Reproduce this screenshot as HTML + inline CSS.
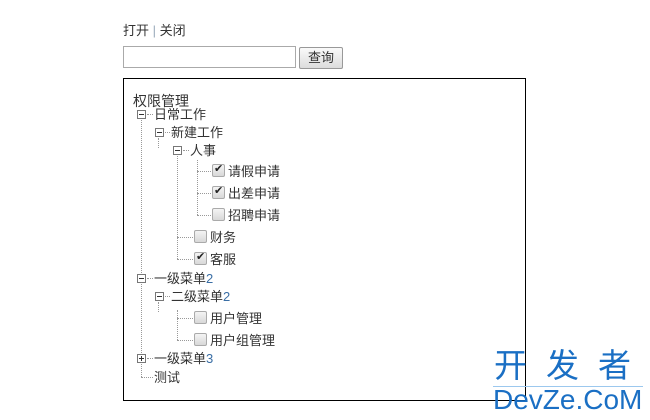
<!DOCTYPE html>
<html><head><meta charset="utf-8"><style>
body{margin:0;width:650px;height:420px;background:#fff;position:relative;overflow:hidden;font-family:"Liberation Sans","Noto Sans CJK SC",sans-serif;font-size:13px;color:#333}
.a{position:absolute;white-space:nowrap}
.t{position:absolute;white-space:nowrap;line-height:16px}
.v{position:absolute;border-left:1px dotted #999;width:0}
.h{position:absolute;border-top:1px dotted #999;height:0}
.sw{position:absolute;width:7px;height:7px;border:1px solid #777;background:#fff}
.sw:before{content:"";position:absolute;left:1px;top:3px;width:5px;height:1px;background:#333}
.sw.p:after{content:"";position:absolute;left:3px;top:1px;width:1px;height:5px;background:#333}
.cb{position:absolute;width:11px;height:11px;border:1px solid #aaa;border-radius:2px;background:linear-gradient(#f4f4f4,#d8d8d8)}
.cb.c:after{content:"✔";position:absolute;left:1px;top:-3px;font-size:11px;color:#222}
.n{color:#3a6ea5}
</style></head><body>
<div class="a" style="left:123px;top:20px;font-size:13px">打开 <span style="color:#9ab">|</span> 关闭</div>
<div class="a" style="left:123px;top:46px;width:171px;height:20px;border:1px solid #aaa"></div>
<div class="a" style="left:299px;top:47px;width:42px;height:20px;border:1px solid #999;border-radius:2px;background:linear-gradient(#fafafa,#dcdcdc);text-align:center;line-height:20px">查询</div>
<div class="a" style="left:123px;top:78px;width:401px;height:321px;border:1px solid #000"></div>
<div class="a" style="left:133px;top:91px;font-size:14px">权限管理</div>

<div class="v" style="left:141px;top:120px;height:257px"></div>
<div class="v" style="left:158px;top:138px;height:10px"></div>
<div class="v" style="left:177px;top:156px;height:103px"></div>
<div class="v" style="left:197px;top:160px;height:55px"></div>
<div class="v" style="left:158px;top:302px;height:10px"></div>
<div class="v" style="left:177px;top:310px;height:30px"></div>

<div class="sw" style="left:137px;top:110px"></div><div class="h" style="left:147px;top:114px;width:6px"></div><div class="t" style="left:154px;top:107px">日常工作</div>
<div class="sw" style="left:155px;top:128px"></div><div class="h" style="left:165px;top:132px;width:5px"></div><div class="t" style="left:171px;top:125px">新建工作</div>
<div class="sw" style="left:173px;top:146px"></div><div class="h" style="left:183px;top:150px;width:6px"></div><div class="t" style="left:190px;top:143px">人事</div>

<div class="h" style="left:197px;top:171px;width:14px"></div><div class="cb c" style="left:212px;top:164px"></div><div class="t" style="left:228px;top:164px">请假申请</div>
<div class="h" style="left:197px;top:193px;width:14px"></div><div class="cb c" style="left:212px;top:186px"></div><div class="t" style="left:228px;top:186px">出差申请</div>
<div class="h" style="left:197px;top:215px;width:14px"></div><div class="cb" style="left:212px;top:208px"></div><div class="t" style="left:228px;top:208px">招聘申请</div>
<div class="h" style="left:177px;top:237px;width:16px"></div><div class="cb" style="left:194px;top:230px"></div><div class="t" style="left:210px;top:230px">财务</div>
<div class="h" style="left:177px;top:259px;width:16px"></div><div class="cb c" style="left:194px;top:252px"></div><div class="t" style="left:210px;top:252px">客服</div>

<div class="sw" style="left:137px;top:274px"></div><div class="h" style="left:147px;top:278px;width:6px"></div><div class="t" style="left:154px;top:271px">一级菜单<span class="n">2</span></div>
<div class="sw" style="left:155px;top:292px"></div><div class="h" style="left:165px;top:296px;width:5px"></div><div class="t" style="left:171px;top:289px">二级菜单<span class="n">2</span></div>
<div class="h" style="left:177px;top:318px;width:16px"></div><div class="cb" style="left:194px;top:311px"></div><div class="t" style="left:210px;top:311px">用户管理</div>
<div class="h" style="left:177px;top:340px;width:16px"></div><div class="cb" style="left:194px;top:333px"></div><div class="t" style="left:210px;top:333px">用户组管理</div>
<div class="sw p" style="left:137px;top:354px"></div><div class="h" style="left:147px;top:358px;width:6px"></div><div class="t" style="left:154px;top:351px">一级菜单<span class="n">3</span></div>
<div class="h" style="left:141px;top:377px;width:12px"></div><div class="t" style="left:154px;top:370px">测试</div>

<div class="a" style="left:494px;top:346px;font-size:33px;color:#1a6fc4;letter-spacing:19px;line-height:40px">开发者</div>
<div class="a" style="left:493px;top:386px;width:150px;height:1px;background:#9cc8ee"></div>
<div class="a" style="left:493px;top:384px;font-size:28px;color:#1a6fc4;line-height:32px">DevZe.CoM</div>
</body></html>
